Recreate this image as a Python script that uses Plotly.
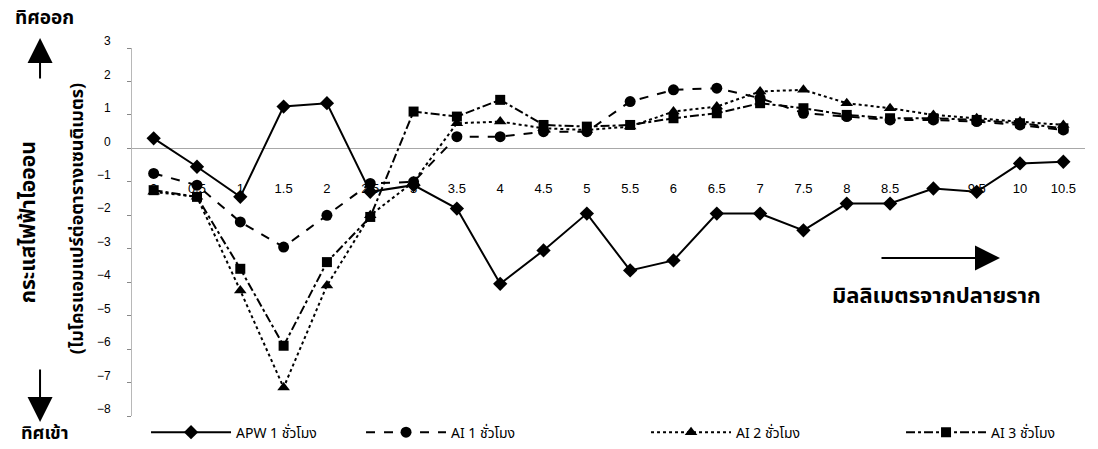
import plotly.graph_objects as go

# distance from root tip (mm), shown as category labels
distance = ["0", "0.5", "1", "1.5", "2", "2.5", "3", "3.5", "4", "4.5", "5",
            "5.5", "6", "6.5", "7", "7.5", "8", "8.5", "9", "9.5", "10", "10.5"]

# ionic current (µA/cm²)
apw_1h = [0.3, -0.55, -1.45, 1.25, 1.35, -1.3, -1.1, -1.8, -4.05, -3.05, -1.95,
          -3.65, -3.35, -1.95, -1.95, -2.45, -1.65, -1.65, -1.2, -1.3, -0.45, -0.4]
ai_1h = [-0.75, -1.1, -2.2, -2.95, -2.0, -1.05, -1.0, 0.35, 0.35, 0.5, 0.5,
         1.4, 1.75, 1.8, 1.5, 1.05, 0.95, 0.85, 0.85, 0.8, 0.7, 0.55]
ai_2h = [-1.3, -1.45, -4.25, -7.15, -4.1, -2.0, -1.0, 0.75, 0.8, 0.6, 0.55,
         0.65, 1.1, 1.25, 1.7, 1.75, 1.35, 1.2, 1.0, 0.9, 0.8, 0.7]
ai_3h = [-1.25, -1.45, -3.6, -5.9, -3.4, -2.05, 1.1, 0.95, 1.45, 0.7, 0.65,
         0.7, 0.9, 1.05, 1.35, 1.2, 1.0, 0.9, 0.9, 0.85, 0.75, 0.6]

y_ticks = [3, 2, 1, 0, -1, -2, -3, -4, -5, -6, -7, -8]

# name, values, dash, marker, marker size, legend entry width
series = [
    ("APW 1 ชั่วโมง", apw_1h, "solid", "diamond", 11, 120),
    ("AI 1 ชั่วโมง", ai_1h, "dash", "circle", 11, 190),
    ("AI 2 ชั่วโมง", ai_2h, "dot", "triangle-up", 11, 160),
    ("AI 3 ชั่วโมง", ai_3h, "dashdot", "square", 10, 90),
]

FONT = "Liberation Sans, Arial, sans-serif"
THAI = "Noto Sans Thai, Loma, Tlwg Typo, Noto Sans, sans-serif"

fig = go.Figure()
for name, vals, dash, sym, size, lw in series:
    fig.add_trace(go.Scatter(
        x=distance, y=vals, name=name, mode="lines+markers",
        line=dict(color="black", width=2, dash=dash),
        marker=dict(symbol=sym, size=size, color="black"),
        legendwidth=lw,
    ))

fig.update_layout(
    width=1098, height=449,
    margin=dict(l=132, r=13, t=48, b=33, autoexpand=False),
    paper_bgcolor="white", plot_bgcolor="white",
    font=dict(family=FONT, size=12, color="black"),
    showlegend=True,
    legend=dict(
        orientation="h", xref="container", x=0.133, y=-0.045,
        xanchor="left", yanchor="middle",
        font=dict(family=THAI, size=14, color="black"),
        entrywidthmode="pixels", itemwidth=80,
        bgcolor="rgba(0,0,0,0)",
    ),
    xaxis=dict(
        type="category", range=[-0.5, 21.5],
        showgrid=False, zeroline=False, showline=False,
        anchor="free", position=8 / 11,
        ticks="", ticklabelstandoff=31,
        tickfont=dict(family=FONT, size=13),
    ),
    yaxis=dict(
        range=[-8, 3], tickvals=y_ticks,
        showgrid=False, zeroline=True, zerolinecolor="#a8a8a8", zerolinewidth=1,
        showline=True, linecolor="#b8b8b8", linewidth=1,
        ticks="outside", ticklen=4, tickcolor="#888888",
        ticklabelstandoff=14, ticklabelshift=-7,
        tickfont=dict(family=FONT, size=12),
    ),
)

# axis titles and direction labels
fig.add_annotation(xref="paper", yref="paper", x=-0.109, y=0.527, text="<b>กระแสไฟฟ้าไอออน</b>",
                   textangle=-90, showarrow=False, xanchor="center", yanchor="middle",
                   font=dict(family=THAI, size=21))
fig.add_annotation(xref="paper", yref="paper", x=-0.0577, y=0.535,
                   text="<b>(ไมโครแอมแปร์ต่อตารางเซนติเมตร)</b>",
                   textangle=-90, showarrow=False, xanchor="center", yanchor="middle",
                   font=dict(family=THAI, size=18))
fig.add_annotation(xref="paper", yref="paper", x=-0.0913, y=1.0815, text="<b>ทิศออก</b>",
                   showarrow=False, xanchor="center", yanchor="middle", font=dict(family=THAI, size=19))
fig.add_annotation(xref="paper", yref="paper", x=-0.0913, y=-0.047, text="<b>ทิศเข้า</b>",
                   showarrow=False, xanchor="center", yanchor="middle", font=dict(family=THAI, size=18))
fig.add_annotation(xref="paper", yref="paper", x=0.8447, y=0.3234, text="<b>มิลลิเมตรจากปลายราก</b>",
                   showarrow=False, xanchor="center", yanchor="middle", font=dict(family=THAI, size=22))

# direction arrows
fig.add_annotation(xref="paper", yref="paper", x=-0.0965, y=1.027, ax=0, ay=42,
                   showarrow=True, arrowhead=2, arrowsize=2.5, arrowwidth=2, arrowcolor="black", text="")
fig.add_annotation(xref="paper", yref="paper", x=-0.0965, y=-0.0163, ax=0, ay=-54,
                   showarrow=True, arrowhead=2, arrowsize=2.5, arrowwidth=2, arrowcolor="black", text="")
fig.add_annotation(xref="paper", yref="paper", x=0.9108, y=0.4293, ax=-120, ay=0,
                   showarrow=True, arrowhead=2, arrowsize=2.5, arrowwidth=2, arrowcolor="black", text="")

fig.write_html("out.html")
